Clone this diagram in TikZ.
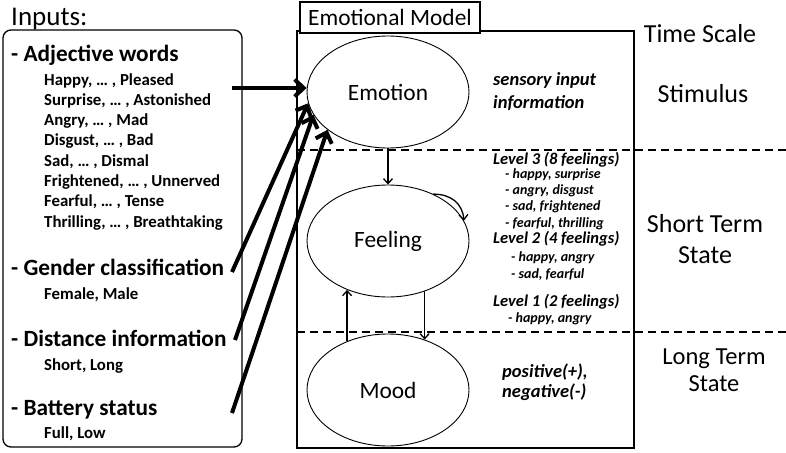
\documentclass[tikz,border=0pt]{standalone}
\usepackage{fontspec}
\setmainfont{Carlito}
\usetikzlibrary{positioning, arrows.meta, shapes.geometric}

\begin{document}
\begin{tikzpicture}
    [
        x=1pt, y=-1pt, node distance=149pt, on grid,
        state_node/.style={ellipse, draw=black, line width=0.9pt, minimum width=162pt, minimum height=112pt, font=\fontsize{23.4}{28}\selectfont},
        head_text/.style={anchor=base west, inner sep=0pt, font=\bfseries\fontsize{23.3}{28}\selectfont},
        item_text/.style={anchor=base west, inner sep=0pt, font=\bfseries\fontsize{16.8}{20}\selectfont},
        note_text/.style={anchor=base west, inner sep=0pt, font=\bfseries\itshape\fontsize{18.5}{22}\selectfont},
        level_text/.style={anchor=base west, inner sep=0pt, font=\bfseries\itshape\fontsize{16.5}{20}\selectfont},
        sub_text/.style={anchor=base west, inner sep=0pt, font=\bfseries\itshape\fontsize{14}{17}\selectfont},
        scale_text/.style={anchor=base, inner sep=0pt, font=\fontsize{26}{31}\selectfont},
        input_arrow/.style={-{Straight Barb[length=9pt, width=17pt]}, line width=4pt},
        link_arrow/.style={-{Straight Barb[length=5pt, width=9pt]}, line width=1.3pt},
        level_line/.style={dash pattern=on 8pt off 5pt, line width=1.8pt},
    ]
    \useasboundingbox (0,0) rectangle (786,452);

    % inputs
    \node[anchor=base west, inner sep=0pt, font=\fontsize{27}{32}\selectfont] (inputs) at (11,26) {Inputs:};
    \node[draw, line width=1.3pt, rounded corners=8pt, minimum width=239pt, minimum height=417pt] (input_box) at (122.5,238.5) {};
    \node[head_text] (adjective) at (11,62) {- Adjective words};
    \foreach \words [count=\i] in {{Happy, … , Pleased}, {Surprise, … , Astonished}, {Angry, … , Mad}, {Disgust, … , Bad}, {Sad, … , Dismal}, {Frightened, … , Unnerved}, {Fearful, … , Tense}, {Thrilling, … , Breathtaking}}
        \node[item_text] (adj\i) at (44,{85+20.3*(\i-1)}) {\words};
    \node[head_text] (gender) at (11,275) {- Gender classification};
    \node[item_text] (gender_items) at (44,299) {Female, Male};
    \node[head_text] (distance) at (11,346) {- Distance information};
    \node[item_text] (distance_items) at (44,370) {Short, Long};
    \node[head_text] (battery) at (11,415) {- Battery status};
    \node[item_text] (battery_items) at (44,438) {Full, Low};

    % emotional model
    \node[draw, line width=1.3pt, minimum width=337pt, minimum height=417pt] (model_box) at (465.5,239.5) {};
    \node[draw, fill=white, line width=1.3pt, minimum width=180pt, minimum height=31pt, inner sep=0pt, font=\fontsize{23.4}{28}\selectfont] (model) at (390,17.5) {Emotional Model};
    \draw[level_line] (297,150) -- (786,150);
    \draw[level_line] (297,332) -- (786,332);

    \node[state_node] (emotion) at (388,92) {Emotion};
    \node[state_node, below=of emotion] (feeling) {Feeling};
    \node[state_node, below=of feeling] (mood) {Mood};

    \draw[link_arrow] (emotion) -- (feeling);
    \draw[link_arrow] (feeling.46) to[out=0, in=95, looseness=1.1] (feeling.15);
    \draw[link_arrow] (mood.130) -- (feeling.230);
    \draw[link_arrow] (feeling.306) -- (mood.54);

    % input arrows
    \coordinate (adj_out) at (232,88);
    \coordinate (gender_out) at (232,272);
    \coordinate (distance_out) at (235,340);
    \coordinate (battery_out) at (232,413);
    \draw[input_arrow] (adj_out) -- (adj_out -| emotion.west);
    \draw[input_arrow] (gender_out) -- (emotion.188);
    \draw[input_arrow] (distance_out) -- (emotion.197);
    \draw[input_arrow] (battery_out) -- (emotion.212);

    % notes
    \node[note_text] (sensory) at (493,85) {sensory input};
    \node[note_text] (information) at (493,108) {information};
    \node[level_text] (level3) at (493,164) {Level 3 (8 feelings)};
    \node[sub_text] (l3a) at (505,178) {- happy, surprise};
    \node[sub_text] (l3b) at (505,194) {- angry, disgust};
    \node[sub_text] (l3c) at (505,210.5) {- sad, frightened};
    \node[sub_text] (l3d) at (505,227.5) {- fearful, thrilling};
    \node[level_text] (level2) at (493,243) {Level 2 (4 feelings)};
    \node[sub_text] (l2a) at (511,261.5) {- happy, angry};
    \node[sub_text] (l2b) at (511,278) {- sad, fearful};
    \node[level_text] (level1) at (493,306.5) {Level 1 (2 feelings)};
    \node[sub_text] (l1a) at (508,322.5) {- happy, angry};
    \node[note_text] (positive) at (502,377) {positive(+),};
    \node[note_text] (negative) at (502,397) {negative(-)};

    % time scale
    \node[scale_text] (time_scale) at (700,43) {Time Scale};
    \node[scale_text] (stimulus) at (703,102) {Stimulus};
    \node[scale_text] (short_term) at (705,232) {Short Term};
    \node[scale_text] (short_state) at (705,263) {State};
    \node[scale_text, font=\fontsize{24.5}{29}\selectfont] (long_term) at (714,364) {Long Term};
    \node[scale_text, font=\fontsize{24.5}{29}\selectfont] (long_state) at (714,391) {State};
\end{tikzpicture}
\end{document}
